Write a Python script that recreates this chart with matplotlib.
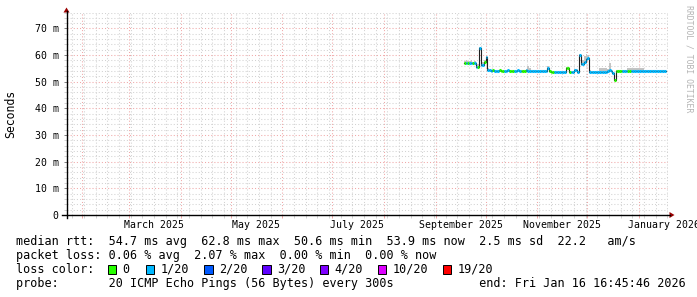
import numpy as np
import datetime as dt
import matplotlib
matplotlib.use("Agg")
import matplotlib.pyplot as plt
import matplotlib.dates as mdates
import matplotlib.transforms as mtrans
from matplotlib.patches import Polygon, Rectangle
from matplotlib.lines import Line2D

# ---------------- data ----------------
data_start = dt.datetime(2025, 9, 18)   # one value per day from here

median_ms = [
    57.0, 57.1, 56.9, 57.0, 57.2, 56.9, 57.0,
    55.7, 55.6, 62.8, 56.3, 56.4, 57.3, 59.3, 54.6, 54.5,
    54.2, 54.3, 54.2, 54.1, 54.2, 54.3, 54.2, 54.2, 54.1, 54.2,
    54.3, 54.2, 54.2, 54.1, 54.2, 54.2, 54.3, 54.2, 54.1, 54.2,
    54.2, 54.3, 54.2, 54.1, 54.0, 54.2, 54.1, 54.0, 54.2, 54.1,
    54.0, 54.1, 54.0, 54.1,
    55.2, 54.0, 53.6, 53.5, 53.6, 53.5, 53.6, 53.7, 53.6, 53.7, 53.8,
    55.0, 55.1, 53.8, 53.7, 53.8, 54.3, 54.4, 53.8,
    60.2, 56.5, 56.6, 57.5, 58.7, 58.8, 53.8,
    53.7, 53.8, 53.7, 53.7, 53.8, 53.7, 53.7, 53.8, 53.7, 53.7, 54.0, 54.6, 54.0, 53.3,
    50.6,
    54.1, 54.2, 54.2, 54.1, 54.2, 54.2, 54.1, 54.2, 54.2, 54.1,
    54.1, 54.0, 54.1, 54.0, 54.0, 54.1, 54.0, 54.0, 53.9, 54.0,
    54.0, 53.9, 54.0, 53.9, 53.9, 54.0, 53.9, 53.9, 53.9, 53.9,
]

# loss class per day: 0 -> "0", 1 -> "1/20"
loss_class = [
    0, 1, 0, 1, 1, 0, 1,
    1, 0, 1, 1, 1, 0, 1, 1, 1,
    1, 0, 1, 1, 1, 0, 0, 0, 1, 1,
    1, 0, 0, 0, 1, 1, 1, 1, 0, 0,
    0, 1, 1, 1, 1, 1, 1, 1, 1, 1,
    1, 1, 1, 1,
    1, 0, 0, 0, 1, 1, 1, 1, 1, 1, 1,
    0, 0, 0, 1, 1, 1, 1, 1,
    1, 1, 1, 1, 1, 1, 1,
    1, 1, 1, 1, 1, 1, 1, 1, 1, 1, 1, 1, 1, 1,
    0,
    0, 0, 0, 0, 1, 1, 1, 0, 0, 1,
    1, 1, 1, 1, 1, 1, 1, 1, 1, 1,
    1, 1, 1, 1, 1, 1, 1, 1, 1, 1,
]

# upper edge of the ping "smoke" per day
smoke_top_ms = [
    57.9, 58.0, 57.8, 57.9, 58.0, 57.6, 57.8,
    56.8, 56.6, 63.0, 57.0, 57.4, 58.0, 59.8, 55.0, 54.8,
    54.6, 54.6, 54.6, 54.6, 54.6, 54.6, 54.6, 54.6, 54.6, 54.6,
    54.6, 54.6, 54.6, 54.6, 54.6, 54.6, 54.6, 54.6, 54.6, 54.6,
    54.6, 54.7, 56.0, 55.3, 54.6, 54.6, 54.6, 54.6, 54.6, 54.6,
    54.6, 54.6, 54.6, 54.6,
    55.8, 54.5, 54.0, 54.0, 54.0, 54.0, 54.0, 54.1, 54.0, 54.1, 54.2,
    55.5, 55.6, 54.2, 54.1, 54.2, 54.7, 54.8, 54.2,
    60.5, 57.5, 58.0, 59.5, 60.3, 60.0, 54.3,
    54.1, 54.1, 54.1, 54.1, 54.1, 55.0, 55.0, 55.0, 55.0, 55.0, 54.8, 57.0, 54.6, 53.8,
    50.9,
    54.6, 54.6, 54.6, 54.6, 54.6, 54.6, 54.6, 55.2, 55.3, 55.3,
    55.3, 55.3, 55.3, 55.3, 55.3, 55.3, 55.3, 54.5, 54.5, 54.5,
    54.5, 54.5, 54.5, 54.5, 54.5, 54.5, 54.5, 54.5, 54.5, 54.5,
]

loss_labels = ["0", "1/20", "2/20", "3/20", "4/20", "10/20", "19/20"]
loss_colors = ["#26ff00", "#00b8ff", "#0059ff", "#5e00ff", "#7e00ff", "#dd00ff", "#ff0000"]

y_major = [0, 10, 20, 30, 40, 50, 60, 70]
month_labels = ["March 2025", "May 2025", "July 2025", "September 2025",
                "November 2025", "January 2026"]
month_label_dates = [dt.datetime(2025, 3, 16), dt.datetime(2025, 5, 16),
                     dt.datetime(2025, 7, 16), dt.datetime(2025, 9, 16),
                     dt.datetime(2025, 11, 16), dt.datetime(2026, 1, 16)]

legend_lines = [
    "median rtt:  54.7 ms avg  62.8 ms max  50.6 ms min  53.9 ms now  2.5 ms sd  22.2   am/s",
    "packet loss: 0.06 % avg  2.07 % max  0.00 % min  0.00 % now",
    "loss color:",
    "probe:       20 ICMP Echo Pings (56 Bytes) every 300s            end: Fri Jan 16 16:45:46 2026",
]

# ---------------- figure ----------------
W, H = 697, 297
fig = plt.figure(figsize=(W / 100, H / 100), dpi=100)
fig.patch.set_facecolor("white")

def fx(x):
    return x / W

def fy(y):
    return 1 - y / H

MONO = "DejaVu Sans Mono"
GRID_C = "#d2d2d2"
MGRID_C = "#f0a8a8"

left_px, right_px, top_px, bot_px = 66.5, 668.0, 12.5, 215.0
ax = fig.add_axes([fx(left_px), fy(bot_px), fx(right_px) - fx(left_px), fy(top_px) - fy(bot_px)])
ax.set_facecolor("white")

x_left = mdates.date2num(dt.datetime(2025, 3, 1)) - (129 - left_px) / (510 / 306)
x_right = mdates.date2num(dt.datetime(2026, 1, 1)) + (right_px - 639) / (510 / 306)
ax.set_xlim(x_left, x_right)
ax.set_ylim(0, (bot_px - top_px) / 26.533)

n = min(len(median_ms), len(loss_class), len(smoke_top_ms))
med = np.array(median_ms[:n])
smk = np.array(smoke_top_ms[:n])
lc = np.array(loss_class[:n])
t0 = mdates.date2num(data_start)
days = t0 + np.arange(n)
edges = np.append(days, days[-1] + 1)

# smoke
ax.fill_between(edges, np.append(med, med[-1]), np.append(smk, smk[-1]),
                step="post", color="#c4c4c4", lw=0, zorder=2)
# dark median connector
ax.step(edges, np.append(med, med[-1]), where="post", color="#202020", lw=0.8, zorder=3)
# loss-coloured median
for k in np.unique(lc):
    sel = lc == k
    ax.hlines(med[sel], days[sel], days[sel] + 1, colors=loss_colors[k],
              linewidth=2.2, zorder=4, capstyle="butt")

# grid
ax.xaxis.set_major_locator(mdates.MonthLocator())
ax.xaxis.set_minor_locator(mdates.WeekdayLocator(byweekday=mdates.SU))
ax.xaxis.set_major_formatter(matplotlib.ticker.NullFormatter())
ax.set_yticks(y_major)
ax.set_yticks(np.arange(0, 77, 2), minor=True)
ax.set_yticklabels(["0" if v == 0 else f"{v} m" for v in y_major],
                   fontfamily=MONO, fontsize=7.1, color="#000000")
ax.set_axisbelow(True)
ax.grid(which="minor", color=GRID_C, linestyle=(0, (1, 2)), linewidth=0.75)
ax.grid(which="major", color=MGRID_C, linestyle=(0, (1, 2)), linewidth=0.75)

ax.tick_params(axis="x", which="major", direction="out", length=2.5, width=0.7, color=MGRID_C)
ax.tick_params(axis="x", which="minor", direction="out", length=2, width=0.7, color=GRID_C)
ax.tick_params(axis="y", which="major", direction="out", length=2.5, width=0.7,
               color="#808080", pad=3.0)
ax.tick_params(axis="y", which="minor", direction="out", length=2, width=0.7, color=GRID_C)
for s in ax.spines.values():
    s.set_visible(False)

# month labels
btr = mtrans.blended_transform_factory(ax.transData, fig.transFigure)
for d, lab in zip(month_label_dates, month_labels):
    ax.text(mdates.date2num(d), fy(224.5), lab, transform=btr, ha="center", va="center",
            fontfamily=MONO, fontsize=7.1, color="#000000", clip_on=False)

# axes lines and arrows
fig.add_artist(Line2D([fx(62), fx(670)], [fy(215), fy(215)], color="#000000", lw=1.0))
fig.add_artist(Line2D([fx(66.5), fx(66.5)], [fy(218), fy(11)], color="#000000", lw=1.0))
fig.add_artist(Polygon([(fx(66.5), fy(7.5)), (fx(63.5), fy(12.5)), (fx(69.5), fy(12.5))],
                       closed=True, color="#9a0000", lw=0))
fig.add_artist(Polygon([(fx(674.5), fy(215)), (fx(669.5), fy(212)), (fx(669.5), fy(218))],
                       closed=True, color="#9a0000", lw=0))

# y label
fig.text(fx(11), fy(114), "Seconds", rotation=90, ha="center", va="center",
         fontfamily=MONO, fontsize=8.3, color="#000000")
# watermark
fig.text(fx(688.5), fy(59), "RRDTOOL / TOBI OETIKER", rotation=270, ha="center", va="center",
         fontfamily=MONO, fontsize=5.9, color="#b4b4b4")

# legend
line_y = [241.5, 255.5, 269.5, 283.3]
for txt, yy in zip(legend_lines, line_y):
    fig.text(fx(16.4), fy(yy), txt, ha="left", va="center", fontfamily=MONO,
             fontsize=8.5, color="#000000")

box_x = [108.0, 145.8, 204.4, 262.2, 320.0, 377.8, 442.7]
for bx, lab, col in zip(box_x, loss_labels, loss_colors):
    fig.add_artist(Rectangle((fx(bx), fy(273.7)), fx(8.4), 8.4 / H, facecolor=col,
                             edgecolor="#000000", lw=0.7))
    fig.text(fx(bx + 14.6), fy(269.5), lab, ha="left", va="center", fontfamily=MONO,
             fontsize=8.5, color="#000000")

fig.savefig("out.png", dpi=100, facecolor="white")
